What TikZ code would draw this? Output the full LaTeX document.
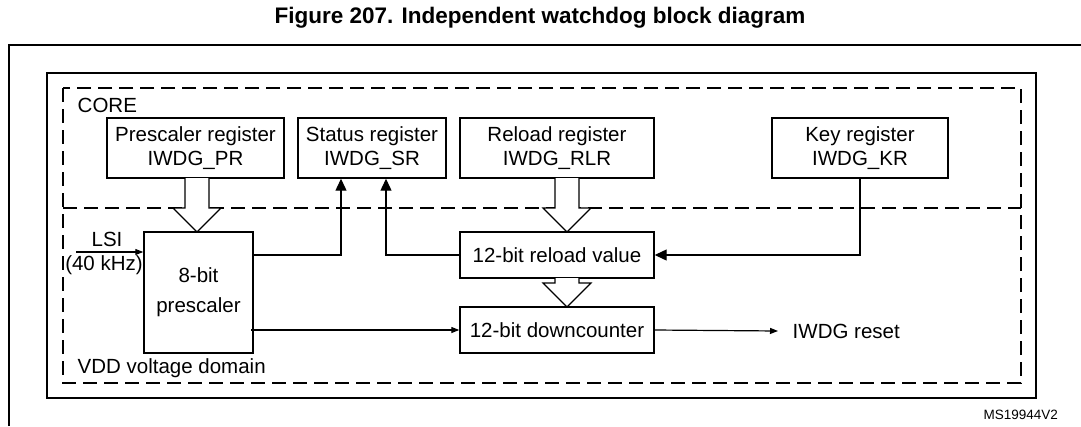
\documentclass[tikz,border=0pt]{standalone}
\usepackage{fontspec}
\setmainfont{Liberation Sans}
\usetikzlibrary{arrows.meta}
\begin{document}
\begin{tikzpicture}[x=1pt,y=-1pt,line width=1.4pt,
  reg/.style={draw,inner sep=0pt,align=center,font=\fontsize{20.5}{24}\selectfont},
  lbl/.style={inner sep=0pt,font=\fontsize{20.5}{24}\selectfont},
  dsh/.style={dash pattern=on 14pt off 7pt},
  con/.style={line width=1.2pt,-{Triangle[length=12pt,width=11pt]}},
  sm/.style={line width=1.2pt,-{Triangle[length=8pt,width=6pt]}},
  hol/.style={line width=1.2pt,fill=white}]
\useasboundingbox (0,0) rectangle (1081,426);
\node[font=\bfseries\fontsize{22.5}{26}\selectfont] (title) at (540,18) {Figure 207. Independent watchdog block diagram};
\draw (9,426) -- (9,45) -- (1081,45);
\draw (47,73) rectangle (1036,398);
\draw[dsh] (63,88) rectangle (1021,383);
\draw[dsh] (63,208) -- (1021,208);
\node[lbl,anchor=west] (core) at (77,105) {CORE};
\node[lbl,anchor=west] (vdd) at (77,368) {VDD voltage domain};
\node[reg,minimum width=177pt,minimum height=60pt] (pr) at (195.5,148) {Prescaler register\\IWDG\_PR};
\node[reg,minimum width=148pt,minimum height=60pt] (sr) at (372,148) {Status register\\IWDG\_SR};
\node[reg,minimum width=194pt,minimum height=60pt] (rlr) at (557,148) {Reload register\\IWDG\_RLR};
\node[reg,minimum width=176pt,minimum height=60pt] (kr) at (860,148) {Key register\\IWDG\_KR};
\node[reg,minimum width=109pt,minimum height=121pt] (ps) at (198.5,292.5) {8-bit\\[6pt]prescaler};
\node[reg,minimum width=194pt,minimum height=46pt] (rv) at (557,255) {12-bit reload value};
\node[reg,minimum width=194pt,minimum height=46pt] (dc) at (557,330) {12-bit downcounter};
% hollow arrows
\draw[hol] (185,178) -- (185,208) -- (173,208) -- (197,232) -- (221,208) -- (209,208) -- (209,178);
\draw[hol] (555,178) -- (555,208) -- (543,208) -- (567,232) -- (591,208) -- (579,208) -- (579,178);
\draw[hol] (555,278) -- (555,283) -- (543,283) -- (567,307) -- (591,283) -- (579,283) -- (579,278);
% connectors
\coordinate (c1) at (341,255);
\coordinate (c2) at (386,255);
\draw[con] (ps.east |- c1) -- (c1) -- (c1 |- sr.south);
\draw[con] (rv.west) -- (c2) -- (c2 |- sr.south);
\draw[con] (kr.south) -- (kr.south |- rv.east) -- (rv.east);
\coordinate (pso) at (251,330);
\draw[sm] (pso) -- (dc.west);
\node[lbl,anchor=west] (rst) at (792,331) {IWDG reset};
\coordinate (rsttip) at (778,331);
\draw[sm] (dc.east) -- (rsttip);
\node[lbl] (lsi) at (107,239) {LSI};
\coordinate (lsia) at (76,252);
\draw[sm] (lsia) -- (ps.west |- lsia);
\node[lbl] (khz) at (104,265) {(40 kHz)};
\node[font=\fontsize{13.5}{15}\selectfont,anchor=west,inner sep=0pt] (ms) at (983,415) {MS19944V2};
\end{tikzpicture}
\end{document}
